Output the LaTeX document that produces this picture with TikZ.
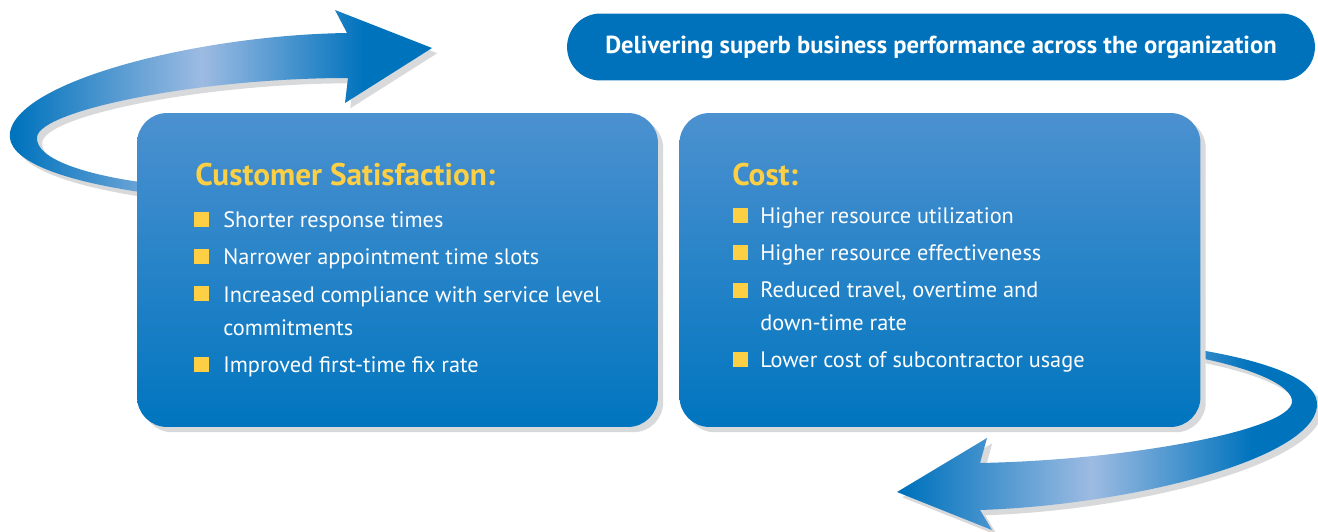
\documentclass[tikz,border=0pt]{standalone}
\usepackage{fontspec}
\setmainfont{PT Sans}
\usetikzlibrary{positioning}
\definecolor{bandblue}{HTML}{0073BD}
\definecolor{bandlight}{HTML}{9DBBE2}
\definecolor{paneltop}{HTML}{4C91D0}
\definecolor{panelbottom}{HTML}{0075BF}
\definecolor{goalblue}{HTML}{0072BB}
\definecolor{titleyellow}{HTML}{FCCF45}
\definecolor{shadowgray}{HTML}{D8D9DB}
\pgfdeclarehorizontalshading{bandshade}{100bp}{color(0bp)=(bandblue); color(26bp)=(bandblue); color(48bp)=(bandlight); color(67bp)=(bandblue); color(100bp)=(bandblue)}
\begin{document}
\begin{tikzpicture}[x=0.02cm, y=-0.02cm,
	panel/.style={rectangle, rounded corners=0.6cm, minimum width=10.42cm, minimum height=6.28cm, top color=paneltop, bottom color=panelbottom, preaction={fill=shadowgray, transform canvas={shift={(3pt,-3pt)}}}},
	goal/.style={rectangle, rounded corners=0.67cm, minimum width=14.96cm, minimum height=1.34cm, fill=goalblue, text=white, font=\bfseries\fontsize{14}{16}\selectfont},
	heading/.style={anchor=base west, inner sep=0pt, text=titleyellow, font=\bfseries\fontsize{17.8}{20}\selectfont},
	item/.style={anchor=base west, inner sep=0pt, text=white, align=left, font=\fontsize{12.7}{18.7}\selectfont},
	bullet/.style={rectangle, inner sep=0pt, minimum size=0.3cm, fill=titleyellow},
	band/.style={shading=bandshade, preaction={fill=shadowgray, transform canvas={shift={(3pt,-3pt)}}}}]
	\useasboundingbox (0,0) rectangle (1318,531);
	% top arrow
	\path[band] (140,192) .. controls (60,180) and (5,160) .. (10,132) .. controls (20,80) and (200,35) .. (347,33) -- (335,10) -- (432,48) -- (345,103) -- (348,78) .. controls (200,78) and (40,110) .. (37,137) .. controls (35,160) and (90,175) .. (140,182) -- cycle;
	% bottom arrow
	\path[band] (1200,350) .. controls (1270,362) and (1320,380) .. (1317,407) .. controls (1310,460) and (1130,505) .. (980,510) -- (992,530) -- (897,492) -- (987,438) -- (980,463) .. controls (1130,460) and (1290,430) .. (1292,402) .. controls (1293,385) and (1250,368) .. (1200,358) -- cycle;
	\node[goal] (G) at (941,47) {Delivering superb business performance across the organization};
	\node[panel] (P1) at (397.5,270) {};
	\node[panel] (P2) at (940,270) {};
	% customer satisfaction
	\node[heading] (T1) at (195,185) {Customer Satisfaction:};
	\node[item] (A1) at (223,227) {Shorter response times};
	\node[item] (A2) at (223,264) {Narrower appointment time slots};
	\node[item] (A3) at (223,335) {Increased compliance with service level\\commitments};
	\node[item] (A4) at (223,372) {Improved first-time fix rate};
	\node[bullet] (B1) at (201,219) {};
	\node[bullet] (B2) at (201,256) {};
	\node[bullet] (B3) at (201,293) {};
	\node[bullet] (B4) at (201,364) {};
	% cost
	\node[heading] (T2) at (732,185) {Cost:};
	\node[item] (C1) at (760,223) {Higher resource utilization};
	\node[item] (C2) at (760,260) {Higher resource effectiveness};
	\node[item] (C3) at (760,330) {Reduced travel, overtime and\\down-time rate};
	\node[item] (C4) at (760,367) {Lower cost of subcontractor usage};
	\node[bullet] (D1) at (740,215) {};
	\node[bullet] (D2) at (740,252) {};
	\node[bullet] (D3) at (740,290) {};
	\node[bullet] (D4) at (740,359) {};
\end{tikzpicture}
\end{document}
